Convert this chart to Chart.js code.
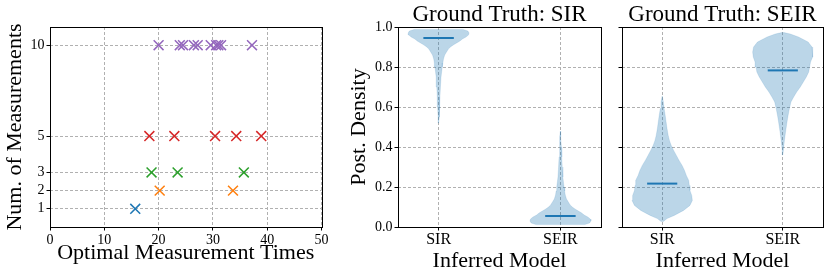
<!DOCTYPE html>
<html><head><meta charset="utf-8">
<script src="https://cdn.jsdelivr.net/npm/chart.js@4"></script>
<style>
html,body{margin:0;padding:0;background:#fff;}
#wrap{position:relative;width:830px;height:279px;overflow:hidden;background:#fff;}
canvas{position:absolute;top:0;}
</style></head><body>
<div id="wrap">
<canvas id="c1" width="330" height="279" style="left:0;width:330px;height:279px"></canvas>
<canvas id="c2" width="280" height="279" style="left:330px;width:280px;height:279px"></canvas>
<canvas id="c3" width="220" height="279" style="left:610px;width:220px;height:279px"></canvas>
</div>
<script>
// ---------- Data: left panel ----------
const measCounts = [1, 2, 3, 5, 10];
const measTimes1 = [15.7];
const measTimes2 = [20.2, 33.7];
const measTimes3 = [18.7, 23.5, 35.7];
const measTimes5 = [18.3, 22.9, 30.4, 34.3, 38.9];
const measTimes10 = [20.0, 23.9, 24.5, 26.5, 27.2, 29.6, 30.6, 31.0, 31.5, 37.2];
const measColors = ['#1f77b4', '#ff7f0e', '#2ca02c', '#d62728', '#9467bd'];
const timeAxisLabel = 'Optimal Measurement Times';
const countAxisLabel = 'Num. of Measurements';

// ---------- Data: violin panels ----------
const modelCategories = ['SIR', 'SEIR'];
const panelTitles = ['Ground Truth: SIR', 'Ground Truth: SEIR'];
const densityAxisLabel = 'Post. Density';
const modelAxisLabel = 'Inferred Model';

// Ground truth SIR -> inferred SIR (posterior value grid, relative density)
const gtSIR_infSIR_y = [0.52, 0.55, 0.60, 0.65, 0.70, 0.75, 0.80, 0.82, 0.84, 0.86, 0.87, 0.88, 0.89, 0.90, 0.91, 0.92, 0.93, 0.94, 0.95, 0.96, 0.97, 0.98, 0.988];
const gtSIR_infSIR_d = [0.0, 0.016, 0.032, 0.044, 0.06, 0.08, 0.12, 0.14, 0.16, 0.2, 0.24, 0.28, 0.32, 0.39, 0.48, 0.59, 0.7, 0.78, 0.9, 0.98, 1.0, 0.96, 0.8];
// Ground truth SIR -> inferred SEIR
const gtSIR_infSEIR_y = [0.012, 0.02, 0.03, 0.04, 0.05, 0.06, 0.07, 0.08, 0.09, 0.10, 0.11, 0.12, 0.13, 0.14, 0.16, 0.18, 0.20, 0.25, 0.30, 0.35, 0.40, 0.45, 0.48];
const gtSIR_infSEIR_d = [0.8, 0.96, 1.0, 0.98, 0.9, 0.78, 0.7, 0.59, 0.48, 0.39, 0.32, 0.28, 0.24, 0.2, 0.16, 0.14, 0.12, 0.08, 0.06, 0.044, 0.032, 0.016, 0.0];
// Ground truth SEIR -> inferred SIR
const gtSEIR_infSIR_y = [0.028, 0.042, 0.058, 0.083, 0.108, 0.133, 0.158, 0.183, 0.208, 0.233, 0.258, 0.283, 0.308, 0.333, 0.358, 0.383, 0.408, 0.433, 0.458, 0.492, 0.525, 0.558, 0.592, 0.625, 0.655];
const gtSEIR_infSIR_d = [0.04, 0.16, 0.4, 0.71, 0.92, 1.0, 0.98, 0.92, 0.9, 0.88, 0.8, 0.74, 0.66, 0.56, 0.47, 0.38, 0.3, 0.24, 0.2, 0.16, 0.13, 0.1, 0.064, 0.04, 0.0];
// Ground truth SEIR -> inferred SEIR
const gtSEIR_infSEIR_y = [0.36, 0.383, 0.425, 0.458, 0.492, 0.525, 0.558, 0.592, 0.625, 0.65, 0.675, 0.7, 0.725, 0.75, 0.775, 0.8, 0.825, 0.85, 0.875, 0.9, 0.925, 0.95, 0.965, 0.972];
const gtSEIR_infSEIR_d = [0.0, 0.02, 0.048, 0.076, 0.108, 0.14, 0.176, 0.22, 0.27, 0.36, 0.46, 0.58, 0.68, 0.78, 0.86, 0.89, 0.92, 0.98, 1.0, 0.97, 0.84, 0.52, 0.25, 0.04];
const mediansGtSIR = [0.945, 0.055];
const mediansGtSEIR = [0.217, 0.783];

// ---------- Rendering ----------
Chart.defaults.font.family = "'Liberation Serif', serif";
Chart.defaults.color = '#000';
const C0 = 'rgb(31,119,180)';
const violinFill = 'rgba(31,119,180,0.3)';
const gridColor = '#b0b0b0';
const tickFont = {size: 14};
const catTickFont = {size: 16};
const labelFont = {size: 22, lineHeight: 1};

const framePlugin = {
  id: 'frame',
  afterDraw(chart) {
    const {ctx, chartArea: a} = chart;
    ctx.save();
    ctx.strokeStyle = '#000';
    ctx.lineWidth = 1;
    const l = Math.round(a.left) + 0.5, t = Math.round(a.top) + 0.5;
    const r = Math.round(a.right) + 0.5, b = Math.round(a.bottom) + 0.5;
    ctx.strokeRect(l, t, r - l, b - t);
    ctx.restore();
  }
};

function gridOpts() {
  return {color: gridColor, lineWidth: 1, tickColor: '#000', tickWidth: 1, tickLength: 3.5, drawTicks: true};
}

// Left scatter panel
const seriesTimes = [measTimes1, measTimes2, measTimes3, measTimes5, measTimes10];
new Chart(document.getElementById('c1'), {
  type: 'scatter',
  data: {
    datasets: seriesTimes.map((times, i) => ({
      data: times.map(t => ({x: t, y: measCounts[i]})),
      pointStyle: 'crossRot',
      pointRadius: 7,
      borderWidth: 1.5,
      borderColor: measColors[i],
      backgroundColor: measColors[i]
    }))
  },
  options: {
    responsive: false, animation: false, devicePixelRatio: 1,
    layout: {padding: {top: 27, right: 7, left: 0, bottom: 0}},
    plugins: {legend: {display: false}, tooltip: {enabled: false}},
    scales: {
      x: {
        type: 'linear', min: 0, max: 50,
        ticks: {stepSize: 10, font: tickFont, padding: 1, maxRotation: 0},
        grid: gridOpts(), border: {display: false, dash: [3, 2]},
        title: {display: true, text: timeAxisLabel, font: labelFont, padding: {top: 0, bottom: 15}},
        afterFit: s => { s.height = 52; }
      },
      y: {
        type: 'linear', min: 0, max: 11,
        afterBuildTicks: s => { s.ticks = measCounts.map(v => ({value: v})); },
        ticks: {font: tickFont, padding: 2},
        grid: gridOpts(), border: {display: false, dash: [3, 2]},
        title: {display: true, text: countAxisLabel, font: labelFont, padding: {top: 4, bottom: 0}},
        afterFit: s => { s.width = 50; }
      }
    }
  },
  plugins: [framePlugin]
});

function violinPolygon(center, ys, ds) {
  const maxD = Math.max(...ds);
  const left = ys.map((y, i) => ({x: center - ds[i] / maxD * 0.25, y}));
  const right = ys.map((y, i) => ({x: center + ds[i] / maxD * 0.25, y})).reverse();
  const pts = left.concat(right);
  pts.push(left[0]);
  return pts;
}

function violinChart(canvasId, title, violins, medians, showYLabels, yWidth, padRight) {
  const datasets = [];
  violins.forEach((v, i) => {
    datasets.push({
      data: violinPolygon(i + 1, v[0], v[1]),
      showLine: true, fill: 'shape', backgroundColor: violinFill,
      borderColor: 'rgba(31,119,180,0.22)', borderWidth: 0.6, pointRadius: 0, tension: 0
    });
  });
  medians.forEach((m, i) => {
    datasets.push({
      data: [{x: i + 1 - 0.125, y: m}, {x: i + 1 + 0.125, y: m}],
      showLine: true, fill: false, borderColor: C0, borderWidth: 2, pointRadius: 0
    });
  });
  return new Chart(document.getElementById(canvasId), {
    type: 'scatter',
    data: {datasets},
    options: {
      responsive: false, animation: false, devicePixelRatio: 1,
      layout: {padding: {top: 0, right: padRight, left: 0, bottom: 0}},
      plugins: {
        legend: {display: false}, tooltip: {enabled: false},
        title: {display: true, text: title, fullSize: false, font: {size: 23, weight: 'normal', lineHeight: 1}, color: '#000', padding: {top: 3.3, bottom: 0.7}}
      },
      scales: {
        x: {
          type: 'linear', min: 2 / 3, max: 7 / 3,
          afterBuildTicks: s => { s.ticks = modelCategories.map((c, i) => ({value: i + 1})); },
          ticks: {font: catTickFont, padding: 0, maxRotation: 0, callback: (v, i) => modelCategories[i]},
          grid: gridOpts(), border: {display: false, dash: [3, 2]},
          title: {display: true, text: modelAxisLabel, font: labelFont, padding: {top: 0, bottom: 7}},
          afterFit: s => { s.height = 52; }
        },
        y: {
          type: 'linear', min: 0, max: 1,
          ticks: {stepSize: 0.2, font: tickFont, padding: 2, callback: v => showYLabels ? v.toFixed(1) : ''},
          grid: gridOpts(), border: {display: false, dash: [3, 2]},
          title: {display: showYLabels, text: densityAxisLabel, font: labelFont, padding: {top: 18.5, bottom: 0}},
          afterFit: s => { s.width = yWidth; }
        }
      }
    },
    plugins: [framePlugin]
  });
}

violinChart('c2', panelTitles[0],
  [[gtSIR_infSIR_y, gtSIR_infSIR_d], [gtSIR_infSEIR_y, gtSIR_infSEIR_d]],
  mediansGtSIR, true, 68, 9);
violinChart('c3', panelTitles[1],
  [[gtSEIR_infSIR_y, gtSEIR_infSIR_d], [gtSEIR_infSEIR_y, gtSEIR_infSEIR_d]],
  mediansGtSEIR, false, 12, 7);
</script>
</body></html>
